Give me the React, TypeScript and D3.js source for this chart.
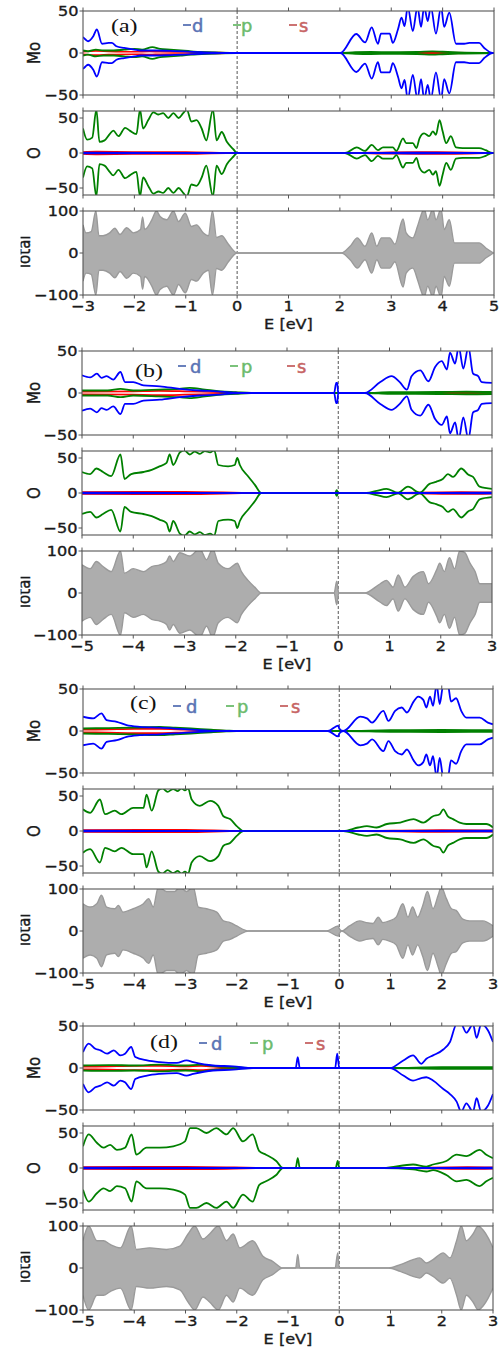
import React from 'react';
import * as d3 from 'd3';

type P = [number, number];

// ---------- axis settings ----------
const panelLabels = ['(a)', '(b)', '(c)', '(d)'];
const xDomains: [number, number][] = [[-3, 5], [-5, 3], [-5, 3], [-5, 3]];
const xTicks = [
  [-3, -2, -1, 0, 1, 2, 3, 4, 5],
  [-5, -4, -3, -2, -1, 0, 1, 2, 3],
  [-5, -4, -3, -2, -1, 0, 1, 2, 3],
  [-5, -4, -3, -2, -1, 0, 1, 2, 3],
];
const subNames = ['Mo', 'O', 'Total'];
const yDomains: [number, number][] = [[-50, 50], [-60, 60], [-100, 100]];
const yTicks = [[-50, 0, 50], [-50, 0, 50], [-100, 0, 100]];
const legendNames = ['d', 'p', 's'];

// ---------- data (spin-up values; spin-down drawn mirrored) ----------
// panel (a)
const aMoD: P[] = [[-3,19],[-2.95,16],[-2.9,14],[-2.8,20],[-2.73,28],[-2.63,11],[-2.5,12],[-2.44,12],[-2.35,8],[-2.2,6],[-2.0,4],[-1.88,3],[-1.6,3],[-1.3,2.5],[-1.04,2],[-0.7,1],[-0.5,0.5],[-0.3,0],[2.01,0],[2.32,22.6],[2.49,12.6],[2.62,30.5],[2.74,11],[2.8,23],[2.97,23],[3.03,12],[3.13,28],[3.2,42],[3.26,32],[3.32,55],[3.42,26],[3.51,55],[3.58,31],[3.64,55],[3.71,38],[3.77,55],[3.87,23],[3.97,55],[4.03,31],[4.13,48],[4.26,11],[4.42,11],[4.52,12],[4.71,12],[4.81,6],[4.97,0],[5,0]];
const aMoP: P[] = [[-3,3],[-2.9,2],[-2.75,4],[-2.6,3],[-2.4,3],[-2.2,4],[-2.0,5],[-1.85,4],[-1.65,7],[-1.5,5],[-1.3,4],[-1.1,3],[-0.9,2],[-0.6,1],[-0.3,0.3],[0,0],[2.0,0],[2.3,1],[2.6,1.2],[3,1],[3.5,1.2],[3.8,2],[4,1.5],[4.3,0.8],[5,0]];
const aMoS: P[] = [[-3,1.5],[-2.75,2.5],[-2.5,2],[-2,1.5],[-1.7,2],[-1.5,1.5],[-1,1.2],[-0.5,0.6],[0,0],[2,0],[3,0.3],[4,0.4],[5,0]];
const aOP: P[] = [[-3,35],[-2.92,19],[-2.82,22],[-2.74,62],[-2.68,16],[-2.58,18],[-2.48,27],[-2.41,32],[-2.31,24],[-2.18,36],[-2.09,32],[-1.96,27],[-1.89,62],[-1.83,35],[-1.73,47],[-1.63,58],[-1.53,55],[-1.44,57],[-1.34,50],[-1.24,57],[-1.14,50],[-1.05,57],[-0.98,62],[-0.89,45],[-0.79,47],[-0.69,35],[-0.6,18],[-0.47,62],[-0.4,18],[-0.3,30],[-0.2,16],[-0.07,5],[0,0],[2.1,0],[2.33,8],[2.49,3],[2.62,11.7],[2.74,4],[2.84,8],[3.03,8],[3.1,3],[3.23,21],[3.29,14],[3.42,14],[3.49,7],[3.55,21],[3.64,28],[3.74,24],[3.81,31],[3.87,26],[3.94,47],[4.0,31],[4.07,14],[4.16,24],[4.26,8],[4.39,7],[4.71,7],[4.84,4],[4.97,0],[5,0]];
const aOS: P[] = [[-3,1.5],[-2.75,2],[-2,1.5],[-1,1.5],[0,0],[2.1,0],[3,1.2],[3.9,1.5],[5,0]];
const aOD: P[] = [[-3,0.4],[0,0],[2,0],[3.5,0.5],[5,0]];
const aTot: P[] = [[-3,67],[-2.94,48],[-2.84,51],[-2.75,100],[-2.69,41],[-2.61,41],[-2.48,48],[-2.38,59],[-2.28,44],[-2.15,60],[-2.02,48],[-1.88,56],[-1.84,86],[-1.8,56],[-1.76,59],[-1.66,79],[-1.57,100],[-1.5,87],[-1.37,79],[-1.24,100],[-1.14,75],[-1.01,95],[-0.89,63],[-0.79,67],[-0.66,48],[-0.56,41],[-0.48,100],[-0.4,37],[-0.3,41],[-0.17,21],[0,0],[2.03,0],[2.2,16],[2.34,36],[2.49,16],[2.62,48],[2.72,16],[2.81,36],[2.97,36],[3.07,21],[3.23,81],[3.29,48],[3.42,36],[3.51,63],[3.58,90],[3.64,105],[3.71,79],[3.81,105],[3.87,79],[3.97,105],[4.03,56],[4.13,79],[4.23,24],[4.39,24],[4.71,24],[4.84,12],[4.99,0]];

// panel (b)
const bMoD: P[] = [[-5,21],[-4.84,18.5],[-4.71,23],[-4.62,18],[-4.52,20],[-4.39,16],[-4.25,25],[-4.16,13],[-4.0,13],[-3.8,9],[-3.48,8],[-3.09,5],[-2.7,3],[-2.37,2],[-2.05,0.5],[-1.9,0],[-0.08,0],[-0.04,12],[-0.02,12],[0.0,0],[0.52,0],[0.82,13],[1.04,20],[1.2,13],[1.34,4],[1.43,20],[1.6,27],[1.76,14],[1.89,31],[2.02,38],[2.12,28],[2.18,48],[2.28,35],[2.35,55],[2.44,29],[2.54,55],[2.63,23],[2.73,20],[2.8,13],[3.0,12]];
const bMoP: P[] = [[-5,3],[-4.5,3],[-4.25,5],[-4,3],[-3.5,4],[-3.1,5],[-2.9,6],[-2.6,4],[-2.3,2],[-2,1],[-1.7,0],[0.55,0],[1,1],[2,1.2],[2.5,1.5],[3,1.2]];
const bMoS: P[] = [[-5,1.5],[-4,2],[-3.5,2.5],[-3,2],[-2.5,1.2],[-2,0.5],[-1.7,0],[0.6,0],[2,0.3],[3,0.3]];
const bOP: P[] = [[-5,30],[-4.84,27],[-4.72,35],[-4.59,30],[-4.43,24],[-4.25,55],[-4.17,20],[-4.04,27],[-3.8,30],[-3.64,33],[-3.49,38],[-3.35,43],[-3.29,55],[-3.22,40],[-3.09,58],[-3.0,61],[-2.9,55],[-2.8,59],[-2.7,56],[-2.6,60],[-2.5,58],[-2.42,61],[-2.34,40],[-2.15,38],[-2.02,40],[-1.97,50],[-1.92,40],[-1.76,24],[-1.63,12],[-1.5,0],[-0.06,0],[-0.03,4],[0,0],[0.55,0],[0.75,3],[0.94,6],[1.17,0.5],[1.36,9],[1.59,0.5],[1.78,13],[1.91,16],[2.04,20],[2.14,27],[2.24,23],[2.4,35],[2.54,26],[2.63,23],[2.76,9],[3.0,6]];
const bOS: P[] = [[-5,1.5],[-3,1.8],[-1.5,0],[0.6,0],[2.4,1.5],[3,1]];
const bOD: P[] = [[-5,0.4],[-1.5,0],[0.6,0],[3,0.4]];
const bTot: P[] = [[-5,67],[-4.84,58],[-4.72,75],[-4.59,63],[-4.43,51],[-4.25,100],[-4.17,47],[-4.0,58],[-3.8,51],[-3.64,63],[-3.48,67],[-3.35,75],[-3.29,88],[-3.22,75],[-3.09,96],[-2.9,88],[-2.7,105],[-2.57,79],[-2.45,105],[-2.34,71],[-2.15,58],[-1.97,71],[-1.89,51],[-1.76,30],[-1.63,14],[-1.5,0],[-0.08,0],[-0.03,28],[0.01,0],[0.51,0],[0.82,22],[0.94,30],[1.07,14],[1.17,43],[1.3,14],[1.46,39],[1.66,51],[1.76,22],[1.92,55],[1.98,71],[2.07,51],[2.17,84],[2.27,58],[2.37,100],[2.47,96],[2.57,71],[2.67,51],[2.76,22],[3.0,22]];

// panel (c)
const cMoD: P[] = [[-5,17],[-4.8,15],[-4.64,21],[-4.54,13],[-4.34,11],[-4.15,7],[-3.89,5],[-3.5,4],[-3.1,2.5],[-2.72,1],[-2.39,0],[-0.22,0],[-0.02,6.5],[0.0,3],[0.08,0],[0.41,17],[0.54,15],[0.64,10],[0.86,24],[0.96,12],[1.09,24],[1.22,28],[1.32,22],[1.45,35],[1.54,41],[1.64,37],[1.7,28],[1.77,41],[1.83,30],[1.9,55],[1.96,32],[2.03,55],[2.12,55],[2.18,35],[2.28,39],[2.38,24],[2.48,16],[2.74,16],[2.9,10],[3.0,8]];
const cMoP: P[] = [[-5,3],[-4.5,3.5],[-4,4],[-3.5,5],[-3.2,4],[-2.9,3],[-2.5,1.5],[-2.2,0.5],[-2,0],[0.1,0],[1,1],[2,1.2],[3,1]];
const cMoS: P[] = [[-5,1.5],[-4.5,2],[-4,2.5],[-3.5,2.5],[-3,1.5],[-2.5,0.8],[-2,0],[0.1,0],[2,0.3],[3,0.3]];
const cOP: P[] = [[-5,31],[-4.86,26],[-4.67,45],[-4.57,24],[-4.38,29],[-4.25,24],[-4.02,33],[-3.82,33],[-3.76,52],[-3.66,29],[-3.53,58],[-3.45,61],[-3.35,56],[-3.24,60],[-3.15,57],[-3.08,61],[-3.01,58],[-2.95,61],[-2.88,45],[-2.72,36],[-2.52,43],[-2.36,36],[-2.26,21],[-2.13,17],[-2.0,7],[-1.87,0],[0.08,0],[0.37,5],[0.54,7],[0.73,5],[0.93,10],[1.19,12],[1.45,17],[1.64,12],[1.83,21],[1.96,24],[2.03,31],[2.12,21],[2.22,17],[2.35,12],[2.48,10],[2.87,10],[3.0,5]];
const cOS: P[] = [[-5,1.5],[-3,1.8],[-1.9,0],[0.1,0],[2,1.5],[3,1]];
const cOD: P[] = [[-5,0.4],[-1.9,0],[0.1,0],[3,0.4]];
const cTot: P[] = [[-5,65],[-4.86,57],[-4.73,65],[-4.64,85],[-4.54,57],[-4.38,53],[-4.31,61],[-4.22,45],[-4.02,53],[-3.82,65],[-3.72,77],[-3.63,57],[-3.53,105],[-3.37,94],[-3.21,94],[-3.11,105],[-2.98,94],[-2.85,105],[-2.75,57],[-2.59,53],[-2.39,45],[-2.26,24],[-2.13,20],[-2.0,12],[-1.84,2],[-1.77,0],[-0.25,0],[-0.02,12],[0.0,6],[0.05,0],[0.2,12],[0.4,24],[0.53,20],[0.66,18],[0.76,33],[0.85,20],[0.98,24],[1.11,33],[1.24,65],[1.34,33],[1.43,57],[1.53,33],[1.63,61],[1.72,94],[1.83,53],[1.93,85],[1.99,105],[2.09,77],[2.19,53],[2.28,49],[2.41,28],[2.54,24],[2.8,24],[3.0,12]];

// panel (d) (gap states only in spin-up)
const dMoDUp: P[] = [[-5,19],[-4.89,29],[-4.76,23],[-4.66,21],[-4.53,17],[-4.4,21],[-4.27,15],[-4.18,17],[-4.06,25],[-3.98,13],[-3.75,9],[-3.5,7],[-3.17,6],[-2.98,9],[-2.85,7],[-2.46,3],[-2.07,2],[-1.68,0],[-0.85,0],[-0.81,13],[-0.77,0],[-0.08,0],[-0.04,17],[0.0,0],[0.99,0],[1.25,9],[1.44,15],[1.6,5],[1.7,11],[1.83,15],[2.03,22],[2.16,31],[2.29,52],[2.38,52],[2.48,42],[2.61,52],[2.68,36],[2.77,52],[2.9,45],[3.0,31]];
const dMoDDown: P[] = [[-5,19],[-4.89,29],[-4.76,23],[-4.66,21],[-4.53,17],[-4.4,21],[-4.27,15],[-4.18,17],[-4.06,25],[-3.98,13],[-3.75,9],[-3.5,7],[-3.17,6],[-2.98,9],[-2.85,7],[-2.46,3],[-2.07,2],[-1.68,0],[0.99,0],[1.25,9],[1.44,15],[1.6,12],[1.7,11],[1.83,15],[2.03,25],[2.16,31],[2.29,40],[2.38,52],[2.48,42],[2.61,52],[2.68,36],[2.77,52],[2.9,45],[3.0,31]];
const dMoP: P[] = [[-5,3],[-4.5,3.5],[-4,3],[-3.5,4],[-3,3],[-2.7,4],[-2.4,2],[-2,1],[-1.7,0],[1,0],[2,1],[3,1]];
const dMoS: P[] = [[-5,1.5],[-4.5,2],[-4,2.5],[-3.5,2.5],[-3,2],[-2.7,2.5],[-2.3,1],[-1.8,0],[1,0],[2,0.3],[3,0.3]];
const dOPUp: P[] = [[-5,31],[-4.89,48],[-4.73,36],[-4.6,29],[-4.47,33],[-4.34,26],[-4.18,29],[-4.05,48],[-3.96,19],[-3.76,29],[-3.5,29],[-3.24,31],[-3.01,38],[-2.91,57],[-2.79,57],[-2.59,50],[-2.4,57],[-2.2,48],[-2.07,57],[-1.88,38],[-1.69,48],[-1.56,24],[-1.43,19],[-1.23,10],[-1.1,0],[-0.85,0],[-0.81,14],[-0.77,0],[-0.07,0],[-0.03,10],[0.0,0],[0.86,0],[1.44,5],[1.7,2],[1.83,5],[2.09,10],[2.29,19],[2.48,17],[2.74,26],[2.87,19],[3.0,14]];
const dOPDown: P[] = [[-5,31],[-4.89,48],[-4.73,36],[-4.6,29],[-4.47,33],[-4.34,26],[-4.18,29],[-4.05,48],[-3.96,19],[-3.76,29],[-3.5,29],[-3.24,31],[-3.01,38],[-2.91,57],[-2.79,57],[-2.59,50],[-2.4,57],[-2.2,48],[-2.07,57],[-1.88,38],[-1.69,48],[-1.56,24],[-1.43,19],[-1.23,10],[-1.1,0],[0.86,0],[1.44,2],[1.7,5],[1.83,3],[2.09,10],[2.29,19],[2.48,17],[2.74,26],[2.87,19],[3.0,14]];
const dOS: P[] = [[-5,1.5],[-3,1.8],[-1.1,0],[1,0],[2.5,1.5],[3,1]];
const dOD: P[] = [[-5,0.4],[-1.1,0],[1,0],[3,0.4]];
const dTotUp: P[] = [[-5,65],[-4.89,100],[-4.73,65],[-4.6,65],[-4.47,56],[-4.27,48],[-4.06,100],[-3.96,44],[-3.7,48],[-3.37,44],[-3.11,52],[-2.95,81],[-2.82,100],[-2.66,69],[-2.53,81],[-2.36,100],[-2.2,65],[-2.07,81],[-1.94,48],[-1.69,65],[-1.49,28],[-1.3,16],[-1.1,0],[-0.85,0],[-0.81,32],[-0.77,0],[-0.08,0],[-0.03,36],[0.0,0],[0.96,0],[1.19,8],[1.44,20],[1.57,24],[1.7,12],[1.83,20],[2.03,36],[2.16,24],[2.29,65],[2.38,100],[2.48,65],[2.61,81],[2.71,100],[2.81,90],[2.9,73],[3.0,48]];
const dTotDown: P[] = [[-5,65],[-4.89,100],[-4.73,65],[-4.6,65],[-4.47,56],[-4.27,48],[-4.06,100],[-3.96,44],[-3.7,48],[-3.37,44],[-3.11,52],[-2.95,81],[-2.82,100],[-2.66,69],[-2.53,81],[-2.36,100],[-2.2,65],[-2.07,81],[-1.94,48],[-1.69,65],[-1.49,28],[-1.3,16],[-1.1,0],[0.96,0],[1.19,8],[1.44,20],[1.57,24],[1.7,12],[1.83,20],[2.03,36],[2.16,24],[2.29,65],[2.38,100],[2.48,65],[2.61,81],[2.71,100],[2.81,90],[2.9,73],[3.0,48]];

interface Spin { up: P[]; down: P[] }
interface PanelData {
  mo: { d: Spin; p: Spin; s: Spin };
  o: { p: Spin; s: Spin; d: Spin };
  tot: Spin;
}
const sym = (a: P[]): Spin => ({ up: a, down: a });
const panels: PanelData[] = [
  { mo: { d: sym(aMoD), p: sym(aMoP), s: sym(aMoS) }, o: { p: sym(aOP), s: sym(aOS), d: sym(aOD) }, tot: sym(aTot) },
  { mo: { d: sym(bMoD), p: sym(bMoP), s: sym(bMoS) }, o: { p: sym(bOP), s: sym(bOS), d: sym(bOD) }, tot: sym(bTot) },
  { mo: { d: sym(cMoD), p: sym(cMoP), s: sym(cMoS) }, o: { p: sym(cOP), s: sym(cOS), d: sym(cOD) }, tot: sym(cTot) },
  { mo: { d: { up: dMoDUp, down: dMoDDown }, p: sym(dMoP), s: sym(dMoS) }, o: { p: { up: dOPUp, down: dOPDown }, s: sym(dOS), d: sym(dOD) }, tot: { up: dTotUp, down: dTotDown } },
];

// ---------- layout ----------
const W = 501, H = 1351;
const panelTops = [11, 351, 689, 1026];
const panelX0 = [83, 82, 83, 83];
const panelX1 = [494, 492, 493, 493];
const SUB_H = 84, SUB_STEP = 100;
const legHandleX = [[183, 233, 289], [178, 230, 287], [173, 226, 280], [199, 250, 305]];
const legTextX = [[192, 241, 299], [190, 241, 297], [186, 237, 291], [211, 262, 316]];
const legBase = [21, 22, 24, 24];
const labelPos = [[111, 20.5], [135, 25.5], [130, 20], [150, 21.5]];

const COL = { d: '#0000ff', p: '#008000', s: '#ff0000' };
const LEG_COL: Record<string, string> = { d: '#5a73b5', p: '#6cbb6c', s: '#c76464' };
const FONT = 'DejaVu Sans, sans-serif';
const SX = 1.15;

const Txt: React.FC<{ x: number; y: number; size: number; anchor?: string; rot?: number; fill?: string; family?: string; sx?: number; sw?: number; children: React.ReactNode; clip?: string }> = ({ x, y, size, anchor = 'middle', rot = 0, fill = '#1a1a1a', family = FONT, sx = SX, sw = 0.35, children, clip }) => (
  <g clipPath={clip}>
    <text transform={`translate(${x},${y}) scale(${sx},1) rotate(${rot})`} fontSize={size} fontFamily={family} textAnchor={anchor} fill={fill} stroke={sw > 0 ? fill : 'none'} strokeWidth={sw}>{children}</text>
  </g>
);

const fmt = (t: number) => (t < 0 ? `\u2212${-t}` : `${t}`);

function Panel({ pi }: { pi: number }) {
  const data = panels[pi];
  const x = d3.scaleLinear().domain(xDomains[pi]).range([panelX0[pi], panelX1[pi]]);
  const top = panelTops[pi];
  const x0 = panelX0[pi], x1 = panelX1[pi];
  const els: React.ReactNode[] = [];

  for (let si = 0; si < 3; si++) {
    const sTop = top + si * SUB_STEP;
    const sBot = sTop + SUB_H;
    const y = d3.scaleLinear().domain(yDomains[si]).range([sBot, sTop]);
    const line = (sign: number) => d3.line<P>().x(d => x(d[0])).y(d => y(sign * d[1])).curve(d3.curveMonotoneX);
    const clipId = `clip-${pi}-${si}`;
    const marks: React.ReactNode[] = [];
    const spinLines = (s: Spin, color: string, key: string, w = 1.8) => {
      marks.push(<path key={key + 'u'} d={line(1)(s.up) || ''} fill="none" stroke={color} strokeWidth={w} strokeLinejoin="round" />);
      marks.push(<path key={key + 'd'} d={line(-1)(s.down) || ''} fill="none" stroke={color} strokeWidth={w} strokeLinejoin="round" />);
    };
    if (si === 0) {
      spinLines(data.mo.s, COL.s, 'ms', 1.7);
      spinLines(data.mo.p, COL.p, 'mp');
      spinLines(data.mo.d, COL.d, 'md');
    } else if (si === 1) {
      spinLines(data.o.s, COL.s, 'os', 1.5);
      spinLines(data.o.p, COL.p, 'op');
      spinLines(data.o.d, COL.d, 'od', 1.7);
    } else {
      const areaU = d3.area<P>().x(d => x(d[0])).y0(y(0)).y1(d => y(d[1])).curve(d3.curveMonotoneX);
      const areaD = d3.area<P>().x(d => x(d[0])).y0(y(0)).y1(d => y(-d[1])).curve(d3.curveMonotoneX);
      marks.push(<path key="tu" d={areaU(data.tot.up) || ''} fill="#adadad" stroke="none" />);
      marks.push(<path key="td" d={areaD(data.tot.down) || ''} fill="#adadad" stroke="none" />);
      marks.push(<path key="tlu" d={line(1)(data.tot.up) || ''} fill="none" stroke="#9a9a9a" strokeWidth={1.4} />);
      marks.push(<path key="tld" d={line(-1)(data.tot.down) || ''} fill="none" stroke="#9a9a9a" strokeWidth={1.4} />);
    }
    els.push(
      <g key={`sub${si}`}>
        <defs>
          <clipPath id={clipId}><rect x={x0} y={sTop} width={x1 - x0} height={SUB_H} /></clipPath>
          {si === 2 && <clipPath id={`ylclip-${pi}`}><rect x={20.6} y={sTop} width={20} height={SUB_H} /></clipPath>}
        </defs>
        <line x1={x(0)} x2={x(0)} y1={sTop} y2={sBot} stroke="#555" strokeWidth={1} strokeDasharray="3,2" />
        <g clipPath={`url(#${clipId})`}>{marks}</g>
        <rect x={x0} y={sTop} width={x1 - x0} height={SUB_H} fill="none" stroke="#555" strokeWidth={1.1} />
        {xTicks[pi].map(t => (
          <g key={'xt' + t}>
            <line x1={x(t)} x2={x(t)} y1={sBot} y2={sBot + 3.5} stroke="#555" strokeWidth={1} />
            <line x1={x(t)} x2={x(t)} y1={sTop} y2={sTop - 3.5} stroke="#555" strokeWidth={1} />
          </g>
        ))}
        {yTicks[si].map(t => (
          <g key={'yt' + t}>
            <line x1={x0 - 3.5} x2={x0} y1={y(t)} y2={y(t)} stroke="#555" strokeWidth={1} />
            <Txt x={x0 - 4.5} y={y(t) + 5} size={14} anchor="end">{fmt(t)}</Txt>
          </g>
        ))}
        {si < 2 ? (
          <Txt x={40} y={(sTop + sBot) / 2} size={15} rot={-90}>{subNames[si]}</Txt>
        ) : (
          <Txt x={29.5} y={(sTop + sBot) / 2} size={15} rot={-90} clip={`url(#ylclip-${pi})`}>{subNames[si]}</Txt>
        )}
        {si === 2 && xTicks[pi].map(t => (
          <Txt key={'xl' + t} x={x(t)} y={sBot + 15.5} size={14}>{fmt(t)}</Txt>
        ))}
        {si === 2 && <Txt x={(x0 + x1) / 2} y={sBot + 34} size={14}>E [eV]</Txt>}
      </g>
    );
  }
  els.push(<Txt key="lab" x={labelPos[pi][0]} y={top + labelPos[pi][1]} size={18} anchor="start" fill="#111" family="Liberation Serif, Times New Roman, serif" sx={1.33} sw={0}>{panelLabels[pi]}</Txt>);
  legendNames.forEach((n, i) => {
    const c = LEG_COL[n];
    const base = top + legBase[pi];
    els.push(
      <g key={'leg' + n}>
        <line x1={legHandleX[pi][i]} x2={legHandleX[pi][i] + 8} y1={base - 7} y2={base - 7} stroke={c} strokeWidth={1.8} />
        <Txt x={legTextX[pi][i]} y={base} size={17} anchor="start" fill={c} sx={1.05} sw={0.5}>{n}</Txt>
      </g>
    );
  });
  return <g>{els}</g>;
}

export default function App() {
  return (
    <svg width={W} height={H} viewBox={`0 0 ${W} ${H}`} style={{ position: 'absolute', left: 0, top: 0, background: '#fff' }}>
      <rect x={0} y={0} width={W} height={H} fill="#fff" />
      {[0, 1, 2, 3].map(pi => <Panel key={pi} pi={pi} />)}
    </svg>
  );
}
